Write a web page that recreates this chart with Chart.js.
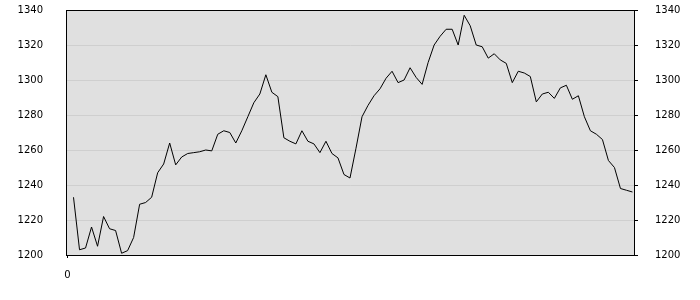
<!DOCTYPE html>
<html>
<head>
<meta charset="utf-8">
<script src="https://cdn.jsdelivr.net/npm/chart.js@4.4.1/dist/chart.umd.min.js"></script>
<style>
  html, body { margin: 0; padding: 0; background: #fff; }
  #wrap { width: 700px; height: 300px; position: relative; }
</style>
</head>
<body>
<div id="wrap"><canvas id="chart" width="700" height="300"></canvas></div>
<script>
// ---- data (94 daily values) ----
const seriesValues = [
  1233, 1203, 1204, 1216, 1205, 1222, 1215, 1214, 1201, 1202.5,
  1210, 1229, 1230, 1233, 1247, 1252, 1264, 1251.5, 1256, 1258,
  1258.5, 1259, 1260, 1259.5, 1269, 1271, 1270, 1264, 1271, 1279,
  1287, 1292, 1303, 1293, 1290.5, 1267, 1265, 1263.5, 1271, 1265,
  1263.5, 1258.5, 1265, 1258, 1255.5, 1246, 1244, 1261, 1279, 1285.5,
  1291, 1295, 1301, 1305, 1298.5, 1300, 1307, 1301.5, 1297.5, 1310,
  1320, 1325, 1329, 1329, 1320, 1337, 1331, 1320, 1319, 1312.5,
  1315, 1311.5, 1309.5, 1298.5, 1305, 1304, 1302, 1287.5, 1292, 1293,
  1289.5, 1295.5, 1297, 1289, 1291, 1279, 1271, 1269, 1266, 1254,
  1250, 1238, 1237, 1236
];
const xTickValues = [0];
const yTickValues = [1200, 1220, 1240, 1260, 1280, 1300, 1320, 1340];

const points = seriesValues.map((v, i) => ({ x: i + 1, y: v }));

const FONT = { family: 'DejaVu Sans', size: 10 };

// plot background + frame
const framePlugin = {
  id: 'frame',
  beforeDraw(chart) {
    const { ctx, chartArea: a } = chart;
    ctx.save();
    ctx.fillStyle = '#e0e0e0';
    ctx.fillRect(a.left, a.top, a.right - a.left, a.bottom - a.top);
    ctx.restore();
  },
  afterDraw(chart) {
    const { ctx, chartArea: a } = chart;
    ctx.save();
    ctx.strokeStyle = '#000';
    ctx.lineWidth = 1;
    ctx.strokeRect(Math.round(a.left) + 0.5, Math.round(a.top) + 0.5,
      Math.round(a.right - a.left) - 1, Math.round(a.bottom - a.top));
    ctx.restore();
  }
};

const fixTicks = (vals) => (scale) => { scale.ticks = vals.map((v) => ({ value: v })); };
const plain = (v) => String(v);
// fixed side width, no extra top/bottom padding from tick label gap
const sideFit = (w) => (s) => { s.width = w; s.paddingTop = 0; s.paddingBottom = 0; };

new Chart(document.getElementById('chart'), {
  type: 'line',
  data: {
    datasets: [{
      data: points,
      borderColor: '#000',
      borderWidth: 1,
      pointRadius: 0,
      tension: 0,
      fill: false,
      yAxisID: 'y'
    }]
  },
  options: {
    responsive: false,
    animation: false,
    layout: { padding: { top: 10, left: 0, right: 0, bottom: 0 } },
    plugins: { legend: { display: false }, tooltip: { enabled: false } },
    scales: {
      x: {
        type: 'linear',
        min: -0.25,
        max: 94.42,
        afterBuildTicks: fixTicks(xTickValues),
        afterFit: (s) => { s.height = 45; },
        border: { display: false },
        grid: { drawOnChartArea: false, tickLength: 3, color: '#000' },
        ticks: { color: '#000', font: FONT, padding: 11, maxRotation: 0, callback: plain }
      },
      y: {
        position: 'left',
        min: 1200,
        max: 1340,
        afterBuildTicks: fixTicks(yTickValues),
        afterFit: sideFit(66),
        border: { display: false },
        grid: { color: '#cfcfcf', drawTicks: false },
        ticks: { color: '#000', font: FONT, padding: 23, callback: plain }
      },
      y2: {
        position: 'right',
        display: true,
        min: 1200,
        max: 1340,
        afterBuildTicks: fixTicks(yTickValues),
        afterFit: sideFit(65),
        border: { display: false },
        grid: { drawOnChartArea: false, tickLength: 3, color: '#000' },
        ticks: { color: '#000', font: FONT, padding: 17, callback: plain }
      }
    }
  },
  plugins: [framePlugin]
});
</script>
</body>
</html>
